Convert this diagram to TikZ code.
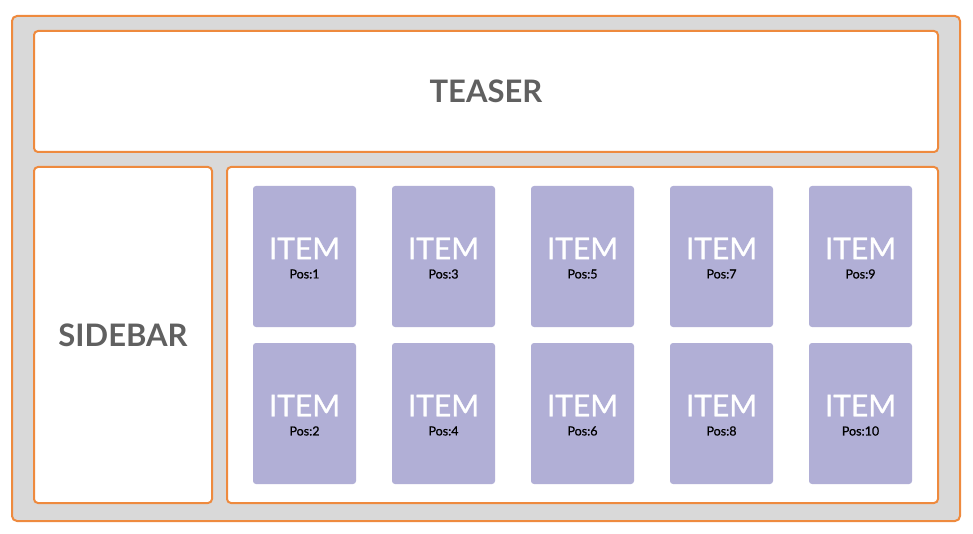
\documentclass[tikz,border=0pt]{standalone}
\usepackage{fontspec}
\setmainfont{Lato}
\newfontfamily\latothick[FakeBold=0.7]{Lato}
\definecolor{frame}{HTML}{EE8A3E}
\definecolor{bggray}{HTML}{D9D9D9}
\definecolor{itemfill}{HTML}{B1AFD6}
\definecolor{labelgray}{HTML}{606060}
\begin{document}
\begin{tikzpicture}[x=1pt,y=-1pt,
  panel/.style={draw=frame,line width=2pt,fill=white,rounded corners=4pt},
  itembox/.style={fill=itemfill,rounded corners=3pt},
  bigtitle/.style={text=labelgray,font=\fontsize{31}{31}\selectfont\bfseries},
  itemtitle/.style={text=white,font=\latothick\fontsize{30}{30}\selectfont},
  postext/.style={text=black,font=\latothick\fontsize{12.5}{12.5}\selectfont}]
\useasboundingbox (0,0) rectangle (973,534);
\draw[draw=frame,line width=2pt,fill=bggray,rounded corners=5pt] (12,16) rectangle (960,521);
\draw[panel] (34,31) rectangle (938,152);
\draw[panel] (34,167) rectangle (212,503);
\draw[panel] (227,167) rectangle (938,503);
\node[bigtitle] (teaser) at (486,91) {TEASER};
\node[bigtitle] (sidebar) at (123,335) {SIDEBAR};
\foreach \c in {0,...,4}{
  \foreach \r in {0,1}{
    \pgfmathtruncatemacro{\n}{2*\c+\r+1}
    \pgfmathsetmacro{\xx}{253+139*\c}
    \pgfmathsetmacro{\yy}{186+157*\r}
    \fill[itembox] (\xx,\yy) rectangle ++(103,141);
    \node[itemtitle] (item\n) at (\xx+51.5,\yy+62.5) {ITEM};
    \node[postext] (pos\n) at (\xx+51.5,\yy+88) {Pos:\n};
  }
}
\end{tikzpicture}
\end{document}
